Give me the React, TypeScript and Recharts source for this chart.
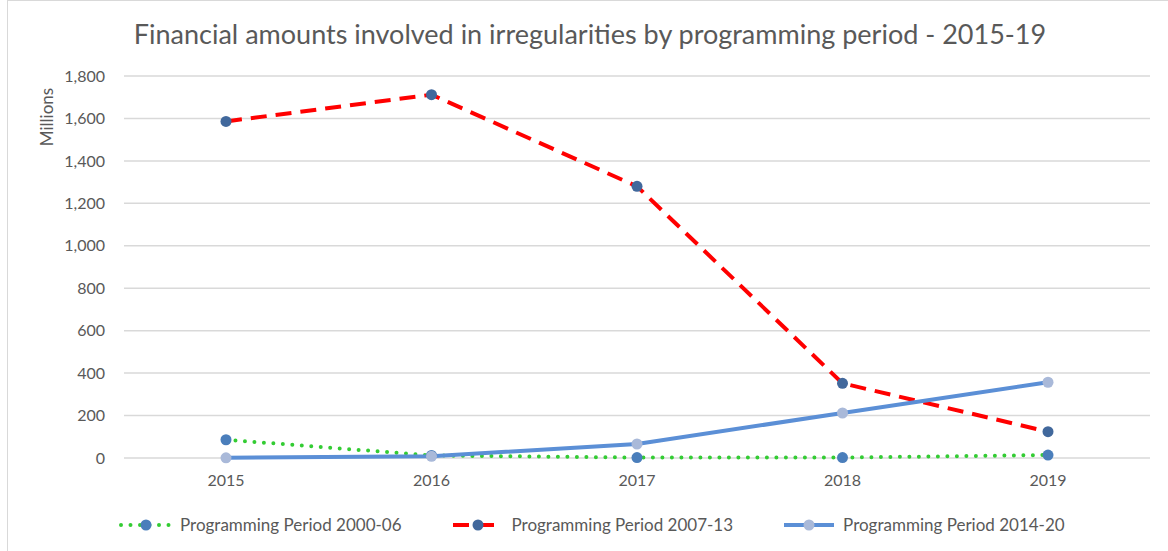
import React from 'react';
import { LineChart, Line, XAxis, YAxis, CartesianGrid, Legend } from 'recharts';

const years = ['2015', '2016', '2017', '2018', '2019'];
const pp2000 = [86, 12, 2, 2, 14];
const pp2007 = [1586, 1712, 1280, 352, 124];
const pp2014 = [1, 8, 66, 212, 357];
const yTicks = [0, 200, 400, 600, 800, 1000, 1200, 1400, 1600, 1800];

const data = years.map((year, i) => ({
  year,
  p2000: pp2000[i],
  p2007: pp2007[i],
  p2014: pp2014[i],
}));

const FONT = 'Lato, "Open Sans", sans-serif';
const TEXT = '#595959';

const legendItems = [
  { name: 'Programming Period 2000-06', line: '#33cc33', dash: '0 9.5', cap: 'round', dot: '#4a7ebb' },
  { name: 'Programming Period 2007-13', line: '#ff0000', dash: '16 9', cap: 'butt', dot: '#41689c' },
  { name: 'Programming Period 2014-20', line: '#5b8fd6', dash: '', cap: 'butt', dot: '#a9b9d9' },
];

const renderLegend = () => (
  <div style={{ display: 'flex', alignItems: 'center', marginLeft: 118, fontFamily: FONT, fontSize: 17, color: TEXT }}>
    {legendItems.map((it) => (
      <div key={it.name} style={{ display: 'flex', alignItems: 'center', marginRight: 48 }}>
        <svg width={56} height={14}>
          <line x1={3} y1={7} x2={53} y2={7} stroke={it.line} strokeWidth={4}
            strokeDasharray={it.dash || undefined} strokeLinecap={it.cap as any} />
          <circle cx={28} cy={7} r={5.5} fill={it.dot} />
        </svg>
        <span style={{ marginLeft: 6 }}>{it.name}</span>
      </div>
    ))}
  </div>
);

export default function App() {
  return (
    <div style={{ position: 'absolute', left: 0, top: 0, width: 1168, height: 551, background: '#fff' }}>
      <div style={{ position: 'absolute', left: 7, top: 0, width: 1161, height: 551, borderLeft: '1px solid #d9d9d9', borderTop: '1px solid #d9d9d9' }} />
      <div style={{ position: 'absolute', left: 0, top: 17, width: 1180, textAlign: 'center', fontFamily: FONT, fontSize: 27, color: TEXT }}>
        Financial amounts involved in irregularities by programming period - 2015-19
      </div>
      <div style={{ position: 'absolute', left: 46, top: 117, transform: 'translate(-50%, -50%) rotate(-90deg)', fontFamily: FONT, fontSize: 17, color: TEXT, whiteSpace: 'nowrap' }}>
        Millions
      </div>
      <LineChart width={1168} height={551} data={data} margin={{ top: 76, right: 18, bottom: 0, left: 64 }}>
        <CartesianGrid vertical={false} stroke="#d9d9d9" strokeWidth={1.5} />
        <XAxis dataKey="year" axisLine={false} tickLine={false} padding={{ left: 102, right: 102 }}
          tick={{ fill: TEXT, fontSize: 16, fontFamily: FONT }} tickMargin={11} height={72} />
        <YAxis domain={[0, 1800]} ticks={yTicks} width={60} axisLine={false} tickLine={false}
          tickFormatter={(v: number) => v.toLocaleString('en-US')}
          tick={{ fill: TEXT, fontSize: 16, fontFamily: FONT }} tickMargin={13} />
        <Legend verticalAlign="bottom" content={renderLegend} wrapperStyle={{ left: 0, width: 1168, bottom: 16 }} />
        <Line dataKey="p2000" name="Programming Period 2000-06" stroke="#33cc33" strokeWidth={4}
          strokeDasharray="0 9.5" strokeLinecap="round" isAnimationActive={false}
          dot={{ r: 5.5, fill: '#4a7ebb', stroke: 'none' }} />
        <Line dataKey="p2007" name="Programming Period 2007-13" stroke="#ff0000" strokeWidth={4}
          strokeDasharray="16 9" isAnimationActive={false}
          dot={{ r: 5.5, fill: '#41689c', stroke: 'none' }} />
        <Line dataKey="p2014" name="Programming Period 2014-20" stroke="#5b8fd6" strokeWidth={4}
          isAnimationActive={false}
          dot={{ r: 5.5, fill: '#a9b9d9', stroke: 'none' }} />
      </LineChart>
    </div>
  );
}
